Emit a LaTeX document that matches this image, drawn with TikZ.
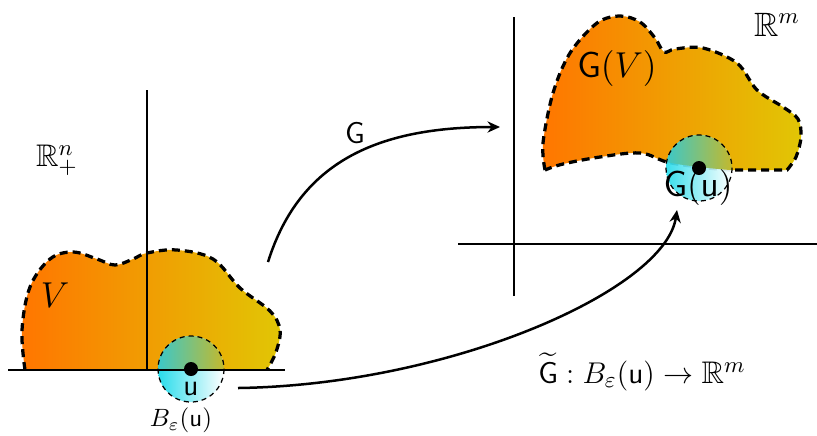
\documentclass[tikz,border=0pt]{standalone}
\usepackage{amsmath,amssymb}
\usetikzlibrary{arrows.meta}
\definecolor{blobL}{RGB}{255,118,0}
\definecolor{blobR}{RGB}{225,198,5}
\definecolor{ballL}{RGB}{40,220,235}
\definecolor{ballTL}{RGB}{60,200,200}
\definecolor{ballTR}{RGB}{195,185,45}
\tikzset{
  axis/.style={line width=1pt},
  blobline/.style={line width=1.3pt,dash pattern=on 3.2pt off 2pt},
  ballline/.style={line width=0.5pt,dash pattern=on 2pt off 1.6pt},
  maparrow/.style={line width=1pt,-{Stealth[length=5pt,width=4.5pt]}},
  lbl/.style={inner sep=0pt,font=\fontsize{12.5}{15}\selectfont},
  biglbl/.style={inner sep=0pt,font=\fontsize{13.5}{16}\selectfont},
  smalllbl/.style={inner sep=0pt,font=\fontsize{10}{12}\selectfont}
}
\begin{document}
\begin{tikzpicture}[x=0.4pt,y=-0.4pt]
\useasboundingbox (0,0) rectangle (817,435);
% ---------- left blob ----------
\def\leftblob{plot[smooth,tension=0.6] coordinates {(25,370) (22,330) (30,287) (50,259) (73,252) (97,259) (115,265) (133,259) (147,253) (177,250) (213,259) (240,288) (270,311) (280,330) (276,352) (267,370)}}
\shade[left color=blobL,right color=blobR] \leftblob -- cycle;
\draw[blobline] \leftblob;
% left ball
\coordinate (bc) at (191,369);
\shade[left color=ballL,right color=white] (bc) circle[radius=33];
\begin{scope}
  \clip \leftblob -- cycle;
  \shade[left color=ballTL,right color=ballTR] (bc) circle[radius=33];
\end{scope}
\draw[ballline] (bc) circle[radius=33];
% left axes
\coordinate (lx0) at (8,370);
\coordinate (lx1) at (285,370);
\coordinate (ly0) at (147,370);
\coordinate (ly1) at (147,90);
\draw[axis] (lx0) -- (lx1);
\draw[axis] (ly0) -- (ly1);
\fill (bc) circle[radius=7];
\node[lbl] (u) at (191,389) {$\mathsf{u}$};
\node[smalllbl] (Beps) at (181,420) {$B_{\varepsilon}(\mathsf{u})$};
\node[biglbl] (V) at (55,295) {$V$};
\node[lbl] (Rn) at (57,160) {$\mathbb{R}^n_+$};
% ---------- right blob ----------
\def\rightblobtop{plot[smooth,tension=0.55] coordinates {(545,170) (543,143) (553,93) (570,53) (597,23) (620,16) (640,22) (655,38) (664,52) (675,49) (703,48) (737,63) (757,90) (783,107) (798,119) (801,137) (796,157) (787,170)}}
\def\rightblobbot{-- plot[smooth,tension=0.6] coordinates {(730,170) (699,167) (667,162) (640,153) (600,157) (563,164) (545,170)}}
\shade[left color=blobL,right color=blobR] \rightblobtop \rightblobbot -- cycle;
\draw[blobline] \rightblobtop \rightblobbot;
\coordinate (gc) at (699,168);
\shade[left color=ballL,right color=white,fill opacity=0.92] (gc) circle[radius=33];
\begin{scope}
  \clip \rightblobtop \rightblobbot -- cycle;
  \shade[left color=ballTL,right color=ballTR] (gc) circle[radius=33];
\end{scope}
\draw[ballline] (gc) circle[radius=33];
\fill (gc) circle[radius=7];
% right axes
\coordinate (rx0) at (458,244);
\coordinate (rx1) at (817,244);
\coordinate (ry0) at (514,296);
\coordinate (ry1) at (514,17);
\draw[axis] (rx0) -- (rx1);
\draw[axis] (ry0) -- (ry1);
\node[biglbl] (Gu) at (698,187) {$\mathsf{G}(\mathsf{u})$};
\node[biglbl] (GV) at (617,68) {$\mathsf{G}(V)$};
\node[biglbl] (Rm) at (777,25) {$\mathbb{R}^m$};
% ---------- arrows ----------
\coordinate (a0) at (268,262);
\coordinate (a1) at (500,127);
\draw[maparrow] (a0) .. controls (300,160) and (380,127) .. (a1);
\node[lbl] (Glab) at (355,133) {$\mathsf{G}$};
\coordinate (b0) at (238,388);
\coordinate (b1) at (677,210);
\draw[maparrow] (b0) .. controls (450,385) and (665,290) .. (b1);
\node[lbl] (Gt) at (642,372) {$\widetilde{\mathsf{G}}:B_{\varepsilon}(\mathsf{u})\to\mathbb{R}^m$};
\end{tikzpicture}
\end{document}
